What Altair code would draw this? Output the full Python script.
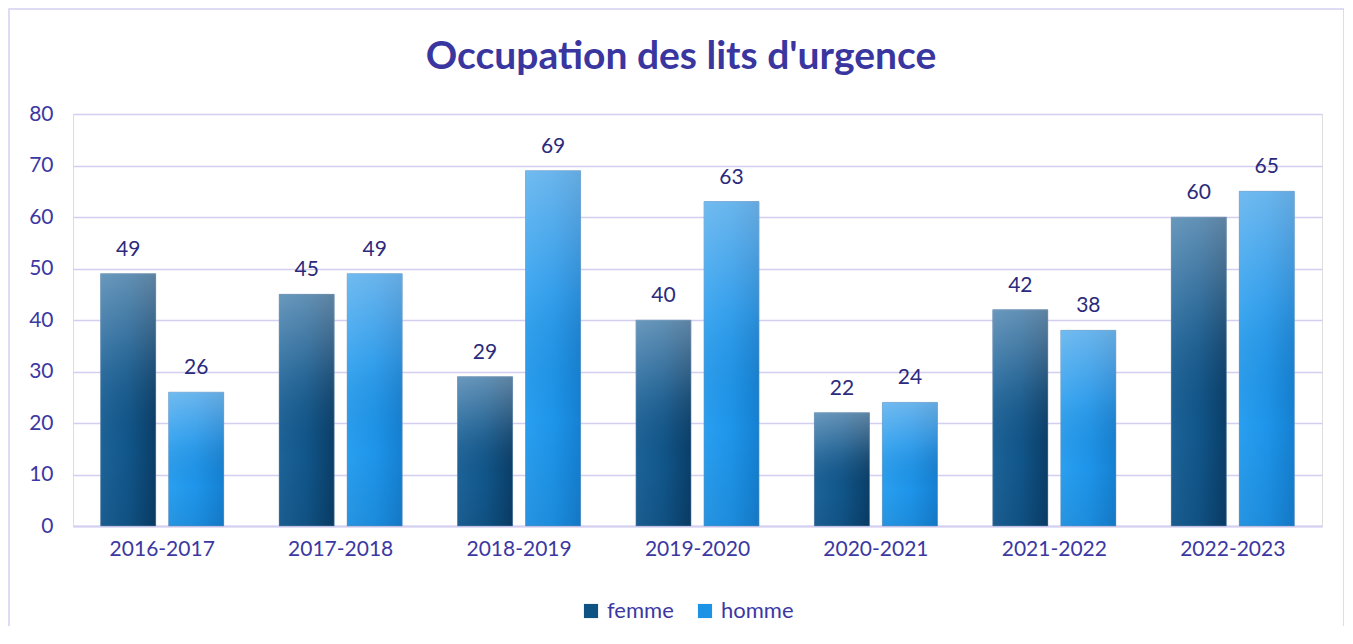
import altair as alt
import pandas as pd

categories = ["2016-2017", "2017-2018", "2018-2019", "2019-2020", "2020-2021", "2021-2022", "2022-2023"]
femme = [49, 45, 29, 40, 22, 42, 60]
homme = [26, 49, 69, 63, 24, 38, 65]
series = ["femme", "homme"]
series_colors = ["#0f5284", "#1d93e6"]
y_ticks = [0, 10, 20, 30, 40, 50, 60, 70, 80]
title_text = "Occupation des lits d'urgence"

rows = []
for i, c in enumerate(categories):
    rows.append({"annee": c, "sexe": "femme", "valeur": femme[i]})
    rows.append({"annee": c, "sexe": "homme", "valeur": homme[i]})
df = pd.DataFrame(rows)

FONT = "Lato"
TXT = "#3c38a2"
VAL = "#2b2a7c"
GRID = "#d3cff2"

x_enc = alt.X("annee:N", sort=categories,
              scale=alt.Scale(paddingInner=0.31, paddingOuter=0.155),
              axis=alt.Axis(title=None, labelAngle=0, labelFontSize=21, labelColor=TXT,
                            labelFont=FONT, labelPadding=12, ticks=False,
                            domainColor=GRID, domainWidth=2, grid=False))
xo_enc = alt.XOffset("sexe:N", sort=series,
                     scale=alt.Scale(paddingInner=0.19, paddingOuter=0))
y_enc = alt.Y("valeur:Q", scale=alt.Scale(domain=[0, 80]),
              axis=alt.Axis(title=None, values=y_ticks, labelFontSize=21, labelColor=TXT,
                            labelFont=FONT, labelPadding=20, ticks=False, domain=False,
                            grid=True, gridColor=GRID, gridWidth=1.6))

base = alt.Chart(df)

bars = base.mark_bar().encode(
    x=x_enc, xOffset=xo_enc, y=y_enc,
    color=alt.Color("sexe:N", sort=series,
                    scale=alt.Scale(domain=series, range=series_colors),
                    legend=alt.Legend(title=None, orient="none", legendX=507, legendY=486,
                                      direction="horizontal", symbolType="square",
                                      symbolSize=200, symbolStrokeWidth=0,
                                      labelFontSize=22, labelColor=TXT, labelFont=FONT,
                                      labelOffset=5, columnPadding=20)),
)

grad_f = alt.LinearGradient(gradient="linear", x1=0, y1=0, x2=1, y2=0, stops=[
    alt.GradientStop(color="#1d6398", offset=0),
    alt.GradientStop(color="#11568a", offset=0.5),
    alt.GradientStop(color="#0a3e68", offset=1)])
grad_h = alt.LinearGradient(gradient="linear", x1=0, y1=0, x2=1, y2=0, stops=[
    alt.GradientStop(color="#2a9ff0", offset=0),
    alt.GradientStop(color="#1e95ea", offset=0.5),
    alt.GradientStop(color="#1580d2", offset=1)])
shine = alt.LinearGradient(gradient="linear", x1=0, y1=0, x2=0, y2=1, stops=[
    alt.GradientStop(color="rgba(210,225,240,0.42)", offset=0),
    alt.GradientStop(color="rgba(210,225,240,0.12)", offset=0.35),
    alt.GradientStop(color="rgba(0,20,40,0.0)", offset=0.7),
    alt.GradientStop(color="rgba(0,20,40,0.08)", offset=1)])

bars_grad = base.mark_bar(stroke="#7a93b5", strokeWidth=0.8, strokeOpacity=0.6).encode(
    x=x_enc, xOffset=xo_enc, y=y_enc,
    color=alt.condition(alt.datum.sexe == "femme", alt.value(grad_f), alt.value(grad_h)),
)
bars_shine = base.mark_bar(fill=shine).encode(x=x_enc, xOffset=xo_enc, y=y_enc)

labels = base.mark_text(baseline="bottom", dy=-14, fontSize=21, font=FONT, color=VAL).encode(
    x=x_enc, xOffset=xo_enc, y=y_enc, text=alt.Text("valeur:Q"))

one = pd.DataFrame({"t": [title_text]})
border = alt.Chart(one).mark_rect(
    filled=False, stroke=GRID, strokeWidth=1.5).encode(
    x=alt.value(-64), x2=alt.value(1271), y=alt.value(-105), y2=alt.value(532))

title = alt.Chart(one).mark_text(
    font=FONT, fontSize=39, fontWeight="bold", color="#3a36a0",
    align="center", baseline="alphabetic").encode(
    x=alt.value(608), y=alt.value(-45), text="t:N")

chart = alt.layer(border, bars, bars_grad, bars_shine, labels, title).properties(
    width=1249, height=412,
    autosize=alt.AutoSizeParams(type="none"),
    padding={"left": 65, "top": 106, "right": 22, "bottom": 100},
).configure_view(stroke=None).configure(background="white")

chart.save("out.html", embed_options={"renderer": "svg", "actions": False})
